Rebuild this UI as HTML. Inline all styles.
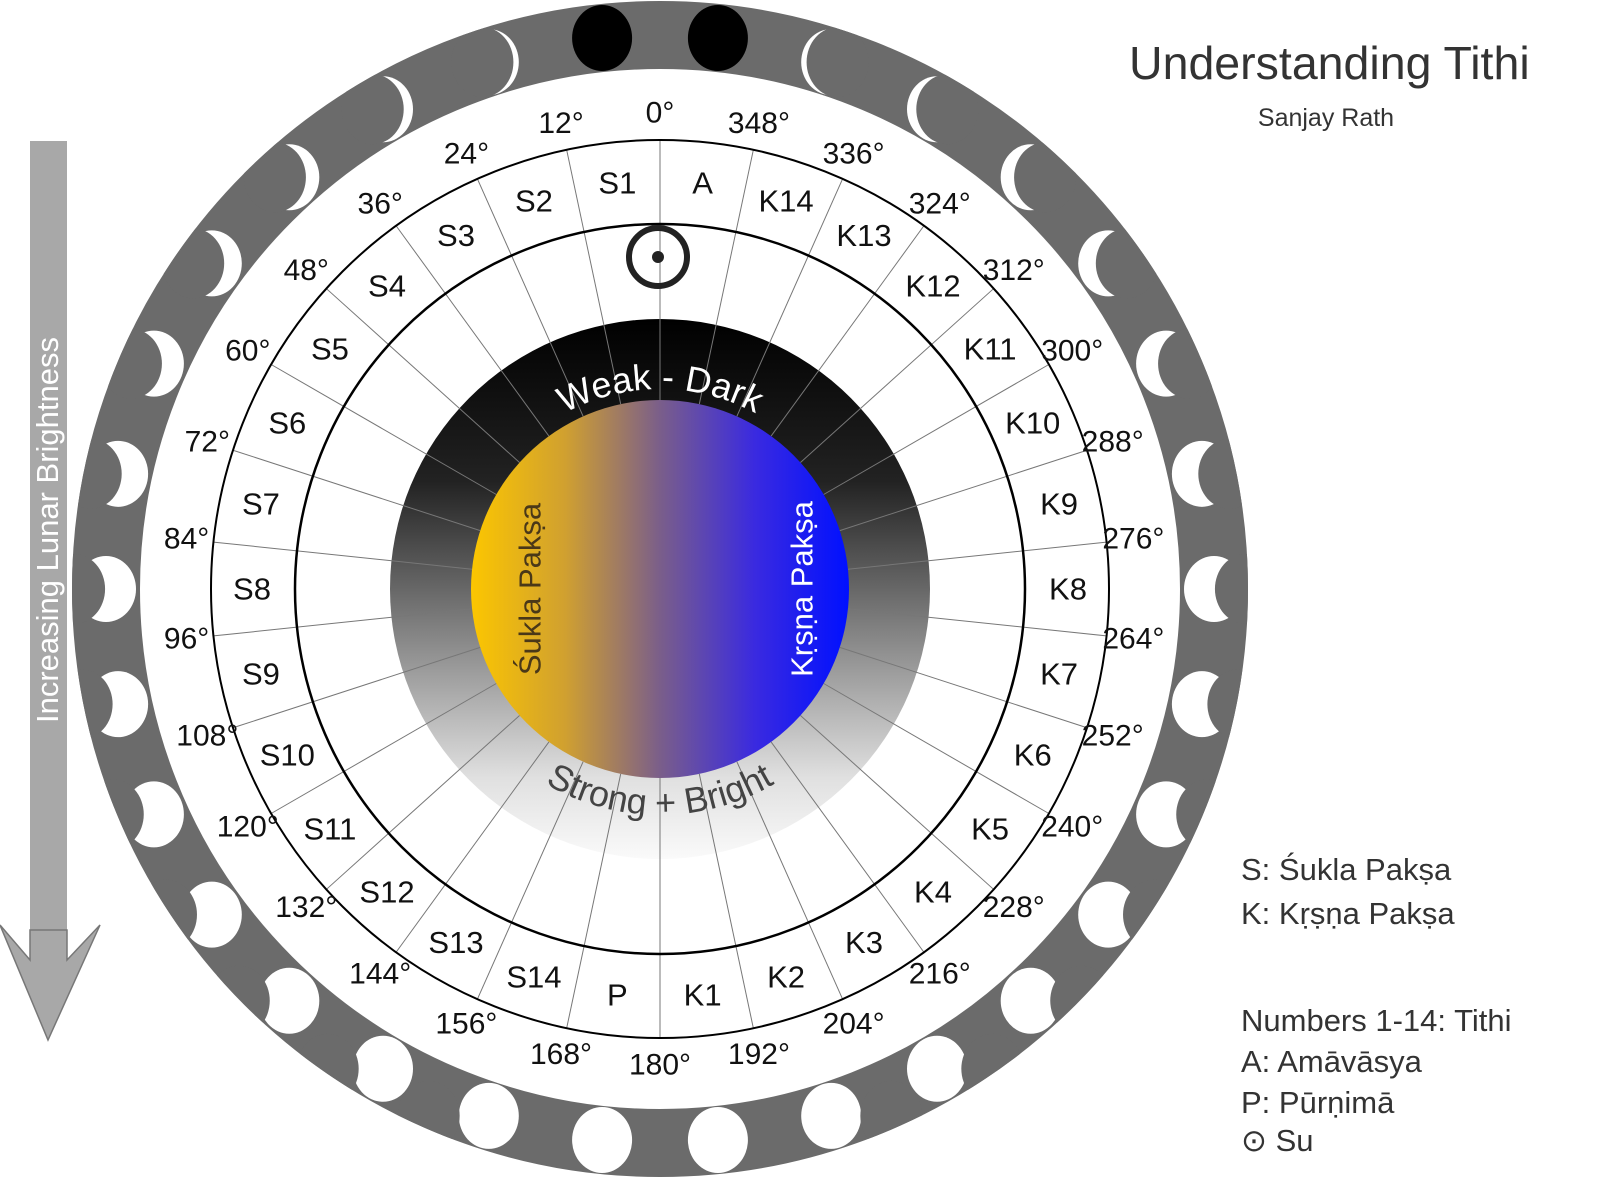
<!DOCTYPE html>
<html><head><meta charset="utf-8"><style>
html,body{margin:0;padding:0;background:#fff;}
svg{display:block;}
text{font-family:"Liberation Sans",sans-serif;}
</style></head><body>
<svg id="s" width="1600" height="1182" viewBox="0 0 1600 1182" xmlns="http://www.w3.org/2000/svg">
<defs>
<linearGradient id="gv" x1="0" y1="0" x2="0" y2="1">
<stop offset="0" stop-color="#000"/><stop offset="0.3" stop-color="#222"/><stop offset="0.6" stop-color="#8a8a8a"/><stop offset="0.85" stop-color="#e0e0e0"/><stop offset="1" stop-color="#fafafa"/>
</linearGradient>
<linearGradient id="gh" x1="0" y1="0" x2="1" y2="0">
<stop offset="0" stop-color="#fcc600"/><stop offset="0.25" stop-color="#d0a030"/><stop offset="0.5" stop-color="#7a5e8a"/><stop offset="0.75" stop-color="#3a2ae0"/><stop offset="1" stop-color="#0010ff"/>
</linearGradient>
<clipPath id="ring"><path clip-rule="evenodd" d="M 72 589 A 588 588 0 1 0 1248 589 A 588 588 0 1 0 72 589 Z M 140 589 A 520 520 0 1 0 1180 589 A 520 520 0 1 0 140 589 Z"/></clipPath>
</defs>
<rect x="30" y="141" width="37" height="800" fill="#a8a8a8"/>
<polygon points="0,925 30,960 30,930 67,930 67,960 100,925 48,1040" fill="#a8a8a8" stroke="#777" stroke-width="1.5"/>
<text transform="translate(58,530) rotate(-90)" text-anchor="middle" font-size="31" fill="#fff">Increasing Lunar Brightness</text>

<circle cx="660" cy="589" r="554" fill="none" stroke="#6b6b6b" stroke-width="68"/>
<g id="moons" clip-path="url(#ring)"></g>
<circle cx="660" cy="589" r="270" fill="url(#gv)"/>
<g id="lines" stroke="#777" stroke-width="1"></g>
<circle cx="660" cy="589" r="449" fill="none" stroke="#000" stroke-width="2"/>
<circle cx="660" cy="589" r="365" fill="none" stroke="#000" stroke-width="2.5"/>
<circle cx="660" cy="589" r="189" fill="url(#gh)"/>
<text transform="translate(530,589) rotate(-90)" text-anchor="middle" dominant-baseline="central" font-size="31" fill="#4a3818">Śukla Pakṣa</text>
<text transform="translate(802,589) rotate(-90)" text-anchor="middle" dominant-baseline="central" font-size="31" fill="#fff">Kṛṣṇa Pakṣa</text>
<path id="arcT" d="M 460 589 A 200 200 0 0 1 860 589" fill="none"/>
<path id="arcB" d="M 434 589 A 226 226 0 0 0 886 589" fill="none"/>
<text font-size="36" fill="#fff"><textPath href="#arcT" startOffset="50%" text-anchor="middle">Weak - Dark</textPath></text>
<text font-size="36" fill="#444"><textPath href="#arcB" startOffset="50%" text-anchor="middle">Strong + Bright</textPath></text>
<circle cx="658" cy="257" r="29" fill="none" stroke="#222" stroke-width="6"/>
<circle cx="658" cy="257" r="6" fill="#222"/>
<g id="labels" font-size="30" fill="#111" text-anchor="middle"></g>

<text x="1129" y="79" font-size="46.5" fill="#333">Understanding Tithi</text>
<text x="1326" y="126" font-size="25" fill="#333" text-anchor="middle">Sanjay Rath</text>
<g font-size="31" fill="#333">
<text x="1241" y="880">S: Śukla Pakṣa</text>
<text x="1241" y="924">K: Kṛṣṇa Pakṣa</text>
<text x="1241" y="1031">Numbers 1-14: Tithi</text>
<text x="1241" y="1072">A: Amāvāsya</text>
<text x="1241" y="1113">P: Pūrṇimā</text>
<text x="1241" y="1151">⊙ Su</text>
</g>
</svg>
<script>
var NS="http://www.w3.org/2000/svg",cx=660,cy=589;
function pt(a,r){var t=a*Math.PI/180;return [cx-r*Math.sin(t),cy-r*Math.cos(t)];}
var L=document.getElementById('lines');
for(var i=0;i<30;i++){var a=i*12,p=pt(a,189),q=pt(a,449);var l=document.createElementNS(NS,'line');
l.setAttribute('x1',p[0]);l.setAttribute('y1',p[1]);l.setAttribute('x2',q[0]);l.setAttribute('y2',q[1]);L.appendChild(l);}
var M=document.getElementById('moons');
function el(n,o){var e=document.createElementNS(NS,n);for(var k in o)e.setAttribute(k,o[k]);M.appendChild(e);}
for(var i=0;i<30;i++){var a=6+12*i,p=pt(a,554),left=i<15,ph=left?i:29-i,f=ph/14;
 if(ph==0){el('ellipse',{cx:p[0],cy:p[1],rx:30,ry:33,fill:'#000'});continue;}
 el('ellipse',{cx:p[0],cy:p[1],rx:30,ry:33,fill:'#fff'});
 if(f<1){var d=3+62*Math.pow(f,1.1);el('ellipse',{cx:p[0]+(left?-d:d),cy:p[1],rx:31,ry:35,fill:'#6b6b6b'});}
}
var G=document.getElementById('labels');
function lab(txt,a,r,fs){var t=a*Math.PI/180;var e=document.createElementNS(NS,'text');
e.setAttribute('x',cx-r*Math.sin(t));e.setAttribute('y',cy-r*Math.cos(t));e.setAttribute('dominant-baseline','central');
if(fs)e.setAttribute('font-size',fs);e.textContent=txt;G.appendChild(e);}
var deg=["0°","12°","24°","36°","48°","60°","72°","84°","96°","108°","120°","132°","144°","156°","168°","180°","192°","204°","216°","228°","240°","252°","264°","276°","288°","300°","312°","324°","336°","348°"];
for(var i=0;i<30;i++)lab(deg[i],i*12,476);
var ti=["S1","S2","S3","S4","S5","S6","S7","S8","S9","S10","S11","S12","S13","S14","P","K1","K2","K3","K4","K5","K6","K7","K8","K9","K10","K11","K12","K13","K14","A"];
for(var i=0;i<30;i++)lab(ti[i],6+12*i,408,31);
</script>
</body></html>
